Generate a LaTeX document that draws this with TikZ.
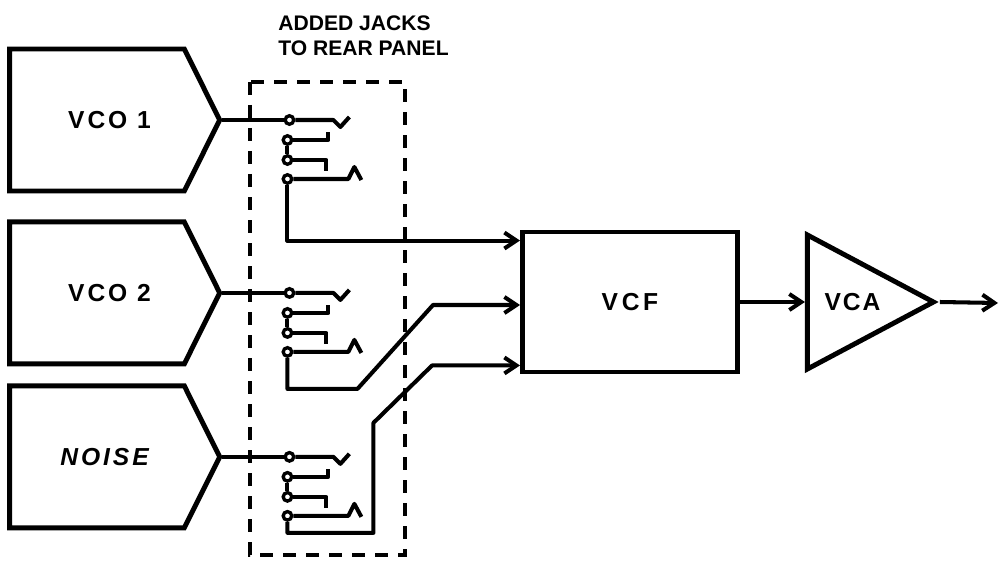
\documentclass[tikz,border=0pt]{standalone}
\usepackage{fontspec}
\setmainfont{Liberation Sans}
\usetikzlibrary{shapes.symbols,shapes.geometric,arrows.meta,positioning,calc}

\tikzstyle{source} = [signal, signal to=east, signal pointer angle=127, minimum width=42mm, minimum height=28.4mm, inner sep=0pt, draw=black, line width=2.8pt, font=\fontsize{14}{16}\selectfont\bfseries\addfontfeatures{LetterSpace=12}]
\tikzstyle{module} = [rectangle, minimum width=43mm, minimum height=28mm, draw=black, line width=2.8pt, font=\fontsize{14}{16}\selectfont\bfseries\addfontfeatures{LetterSpace=15}]
\tikzstyle{amp} = [isosceles triangle, isosceles triangle stretches, minimum width=26.8mm, minimum height=25.2mm, inner sep=0pt, draw=black, line width=2.8pt, font=\fontsize{14}{16}\selectfont\bfseries\addfontfeatures{LetterSpace=8}]
\tikzstyle{contact} = [circle, draw=black, fill=white, line width=1.9pt, inner sep=0pt, minimum size=1.7mm]
\tikzstyle{wire} = [line width=2.3pt, line join=round]
\tikzstyle{arrow} = [wire, -{Straight Barb[length=2.4mm,width=3.2mm]}]
\tikzstyle{panel} = [line width=1.8pt, dash pattern=on 2.6mm off 2mm]

\begin{document}
\begin{tikzpicture}[x=0.2mm, y=-0.2mm]
\useasboundingbox (0,0) rectangle (1000,561);
% sources
\node (vcoa) [source] at (97,120) {\hspace*{5mm}VCO 1};
\node (vcob) [source, below=5.2mm of vcoa] {\hspace*{5mm}VCO 2};
\node (noise) [source, below=3.4mm of vcob] {\hspace*{3mm}\itshape NOISE};
% filter and amplifier
\node (vcf) [module] at (630,302) {VCF};
\node (vca) [amp, right=13mm of vcf] {VCA};
\coordinate (out) at (998,303);
% rear panel
\draw[panel] (250,82) rectangle (405,555);
\node (note) [anchor=south west, align=left, inner sep=0pt, font=\fontsize{12}{14}\selectfont\bfseries] at (278,56) {ADDED JACKS\\TO REAR PANEL};
% jacks
\foreach \jk/\src in {a/vcoa, b/vcob, c/noise} {
  \node (\jk1) [contact] at ($(\src.east)+(67,0)$) {};
  \node (\jk2) [contact] at ($(\jk1)+(-2,20)$) {};
  \node (\jk3) [contact] at ($(\jk1)+(-2,40)$) {};
  \node (\jk4) [contact] at ($(\jk1)+(-2,59)$) {};
  \draw[wire] (\jk1.east) -- ++(38,0) -- ++(7,7) -- ++(9,-10);
  \draw[wire] (\jk2.east) -- ++(35,0) -- ++(0,-8);
  \draw[wire] (\jk3.east) -- ++(33,0) -- ++(0,11);
  \draw[wire] (\jk4.east) -- ++(55,0) -- ++(6,-12) -- ++(7,13);
  \draw[wire] (\jk2) -- (\jk3);
  \draw[wire] (\src.east) -- (\jk1);
}
% wiring
\coordinate (ina) at ($(vcf.north west)+(0,11)$);
\coordinate (inb) at ($(vcf.west)+(0,3)$);
\coordinate (inc) at ($(vcf.south west)+(0,-9)$);
\draw[arrow] (a4) |- (ina);
\draw[arrow] (b4) -- ++(0,37) -- ++(70,0) -- ($(inb)+(-87,0)$) -- (inb);
\draw[arrow] (c4) -- ++(0,17) -- ++(86,0) -- ++(0,-110) -- ($(inc)+(-88,0)$) -- (inc);
\draw[arrow] (vcf.east) -- (vcf.east -| vca.west);
\draw[arrow] (vca.apex) -- (out);
\end{tikzpicture}
\end{document}
